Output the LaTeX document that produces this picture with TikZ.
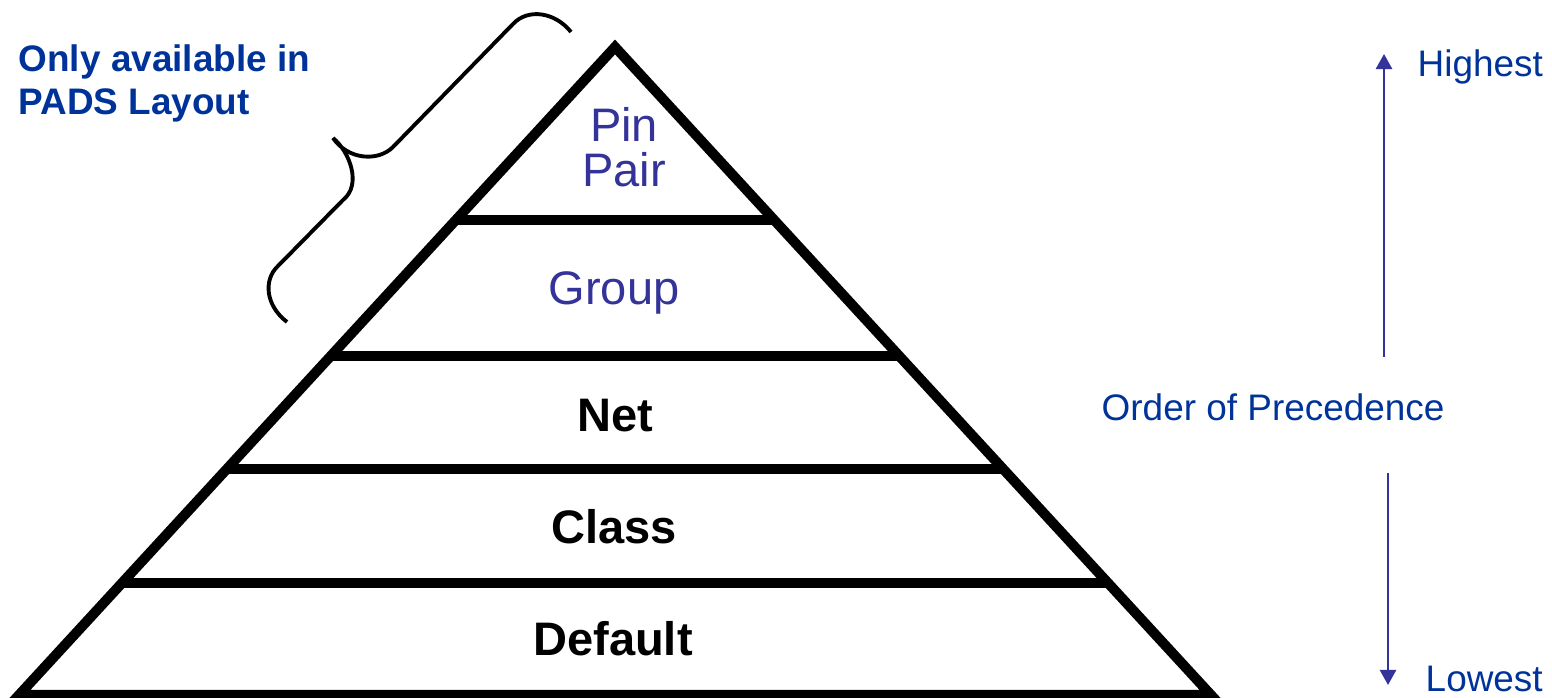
\documentclass[tikz,border=0pt]{standalone}
\usepackage{fontspec}
\setmainfont{Liberation Sans}
\usetikzlibrary{calc,arrows.meta}
\definecolor{lblue}{RGB}{51,51,153}
\definecolor{dblue}{RGB}{0,51,153}
\newcommand{\bigtxt}{\fontsize{13.37pt}{12.8pt}\selectfont}
\newcommand{\midtxt}{\fontsize{10.5pt}{12.3pt}\selectfont}
\tikzset{
  pyr/.style={line width=2.85pt, line join=miter, black},
  tier/.style={line width=2.85pt, black},
  levellbl/.style={inner sep=0pt, anchor=base, font=\bigtxt},
  sidelbl/.style={inner sep=0pt, anchor=base west, font=\midtxt, text=dblue},
  precarrow/.style={line width=0.7pt, draw=lblue, -{Triangle[width=4.6pt,length=4.3pt]}},
  bracestyle/.style={line width=1.1pt, black, line cap=butt}
}
\begin{document}
\begin{tikzpicture}[x=0.01cm,y=-0.01cm]
\useasboundingbox (0,0) rectangle (1552,698);
% pyramid
\coordinate (apex) at (615,47);
\coordinate (bl) at (19,695);
\coordinate (br) at (1211,695);
\draw[pyr] (apex) -- (bl) -- (br) -- cycle;
\foreach \t in {0.2670,0.4769,0.6512,0.8272}{
  \draw[tier] ($(apex)!\t!(bl)$) -- ($(apex)!\t!(br)$);
}
% level labels
\node[levellbl, text=lblue, align=center] (pin) at (624,187) {Pin\\Pair};
\node[levellbl, text=lblue] (group) at (614,305) {Group};
\node[levellbl, font=\bigtxt\bfseries] (net) at (615,432) {Net};
\node[levellbl, font=\bigtxt\bfseries] (class) at (614,544) {Class};
\node[levellbl, font=\bigtxt\bfseries] (default) at (613,656) {Default};
% brace
\draw[bracestyle] (571,32) .. controls (555,12) and (528,8) .. (513,24)
  -- (393,147) .. controls (378,162) and (348,160) .. (333,138)
  .. controls (350,152) and (362,185) .. (343,200)
  -- (277,267) .. controls (264,280) and (265,305) .. (287,322);
\node[inner sep=0pt, anchor=base west, align=left, font=\midtxt\bfseries, text=dblue] (pads) at (18,115) {Only available in\\PADS Layout};
% precedence
\node[sidelbl] (order) at (1101,421) {Order of Precedence};
\node[sidelbl] (high) at (1417,77) {Highest};
\node[sidelbl] (low) at (1425,692) {Lowest};
\coordinate (upstart) at (1384,357);
\coordinate (uptip) at (1384,54);
\coordinate (downstart) at (1388,473);
\coordinate (downtip) at (1388,685);
\draw[precarrow] (upstart) -- (uptip);
\draw[precarrow] (downstart) -- (downtip);
\end{tikzpicture}
\end{document}
